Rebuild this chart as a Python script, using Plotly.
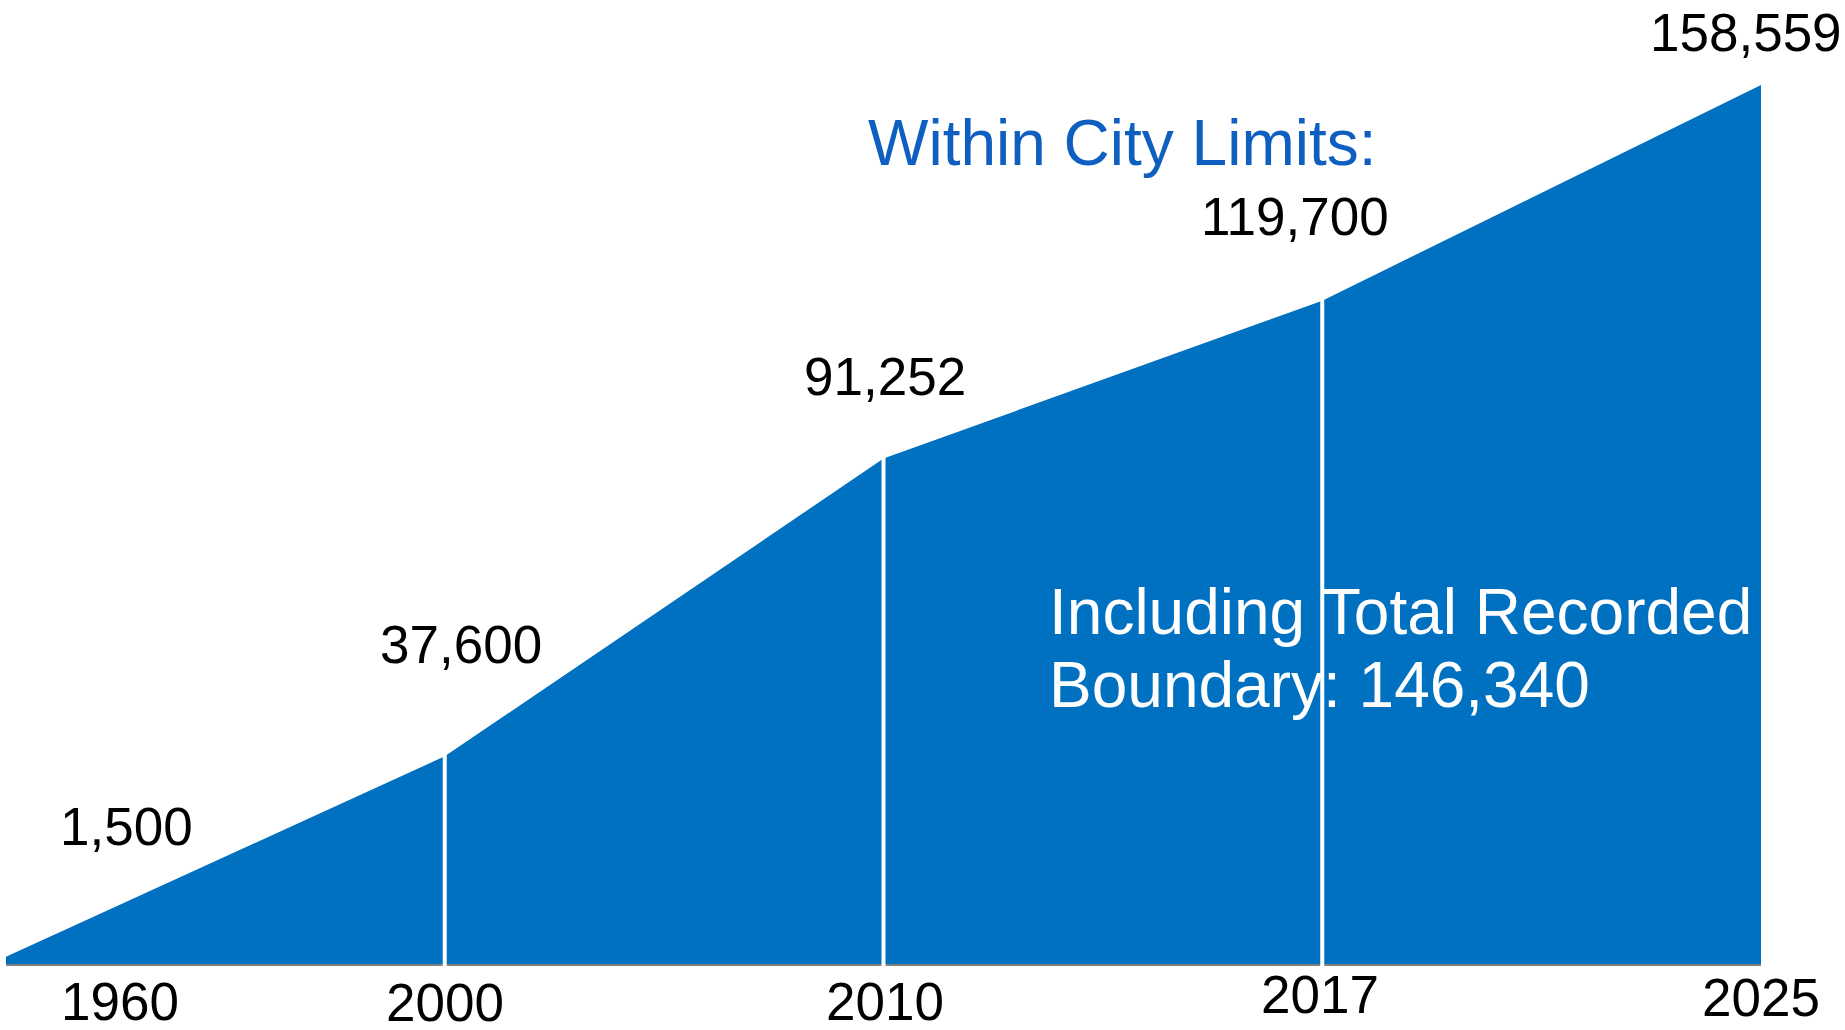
import plotly.graph_objects as go

# ---- data ----
years = ["1960", "2000", "2010", "2017", "2025"]
population = [1500, 37600, 91252, 119700, 158559]
value_labels = ["1,500", "37,600", "91,252", "119,700", "158,559"]
divider_years = ["2000", "2010", "2017"]
divider_values = [37600, 91252, 119700]

# ---- layout constants ----
W, H = 1845, 1030
ML, MR, MT = 6, 84, 85
BASE_PX = 965          # pixel row of the value 0
STUB_PX = 7            # white divider extends this far below baseline
MB = H - (BASE_PX + STUB_PX)
plot_h = BASE_PX + STUB_PX - MT
ymax = max(population)
units_per_px = ymax / (BASE_PX - MT)
ymin = -STUB_PX * units_per_px

BLUE = "#0070C0"
FONT = "Liberation Sans, Arial, sans-serif"

xpos = list(range(len(years)))          # category positions on the x axis
pos_of = {y: i for i, y in enumerate(years)}

fig = go.Figure()
fig.add_trace(go.Scatter(
    x=xpos, y=population, mode="lines", fill="tozeroy",
    fillcolor=BLUE, line=dict(width=0, color=BLUE),
    hoverinfo="skip", showlegend=False,
))

shapes = []
# baseline (axis line)
shapes.append(dict(type="line", xref="paper", yref="y", x0=0, x1=1, y0=0, y1=0,
                   line=dict(color="#7F7F7F", width=2), layer="above"))
# white dividers
for yr, v in zip(divider_years, divider_values):
    xp = pos_of[yr]
    shapes.append(dict(type="line", xref="x", yref="y", x0=xp, x1=xp,
                       y0=ymin, y1=v + 2 * units_per_px,
                       line=dict(color="white", width=4), layer="above"))

annotations = []
# value labels (pixel offsets from their data points)
label_shift = [(120, 130), (16, 112), (1, 82), (-27, 84), (-15, 53)]
for xp, v, t, (dx, dy) in zip(xpos, population, value_labels, label_shift):
    annotations.append(dict(x=xp, y=v, xref="x", yref="y", text=t, showarrow=False,
                            xshift=dx, yshift=dy, xanchor="center", yanchor="middle",
                            font=dict(family=FONT, size=53, color="black")))
# category labels
tick_shift = [(114, -36), (0, -37), (1, -36), (-2, -29), (0, -32)]
for xp, yr, (dx, dy) in zip(xpos, years, tick_shift):
    annotations.append(dict(x=xp, y=0, xref="x", yref="y", text=yr, showarrow=False,
                            xshift=dx, yshift=dy, xanchor="center", yanchor="middle",
                            font=dict(family=FONT, size=53, color="black")))

def px_to_paper(px, py):
    return (px - ML) / (W - ML - MR), (BASE_PX + STUB_PX - py) / plot_h

x1, y1 = px_to_paper(866, 143)
annotations.append(dict(x=x1, y=y1, xref="paper", yref="paper", text="Within City Limits:",
                        showarrow=False, xanchor="left", yanchor="middle",
                        font=dict(family=FONT, size=64, color="#0F5FC1")))
x2, y2 = px_to_paper(1047, 612)
annotations.append(dict(x=x2, y=y2, xref="paper", yref="paper", text="Including Total Recorded",
                        showarrow=False, xanchor="left", yanchor="middle",
                        font=dict(family=FONT, size=64, color="white")))
x3, y3 = px_to_paper(1047, 685)
annotations.append(dict(x=x3, y=y3, xref="paper", yref="paper", text="Boundary: 146,340",
                        showarrow=False, xanchor="left", yanchor="middle",
                        font=dict(family=FONT, size=64, color="white")))

fig.update_layout(
    width=W, height=H,
    margin=dict(l=ML, r=MR, t=MT, b=MB, pad=0),
    paper_bgcolor="white", plot_bgcolor="white",
    xaxis=dict(range=[0, len(years) - 1], showgrid=False, zeroline=False,
               tickvals=xpos, ticktext=years,
               showticklabels=False, showline=False, ticks=""),
    yaxis=dict(range=[ymin, ymax], showgrid=False, zeroline=False,
               showticklabels=False, showline=False, ticks=""),
    shapes=shapes, annotations=annotations, showlegend=False,
)

fig.write_html("out.html", config={"displayModeBar": False},
               post_script="document.body.style.margin='0';")
